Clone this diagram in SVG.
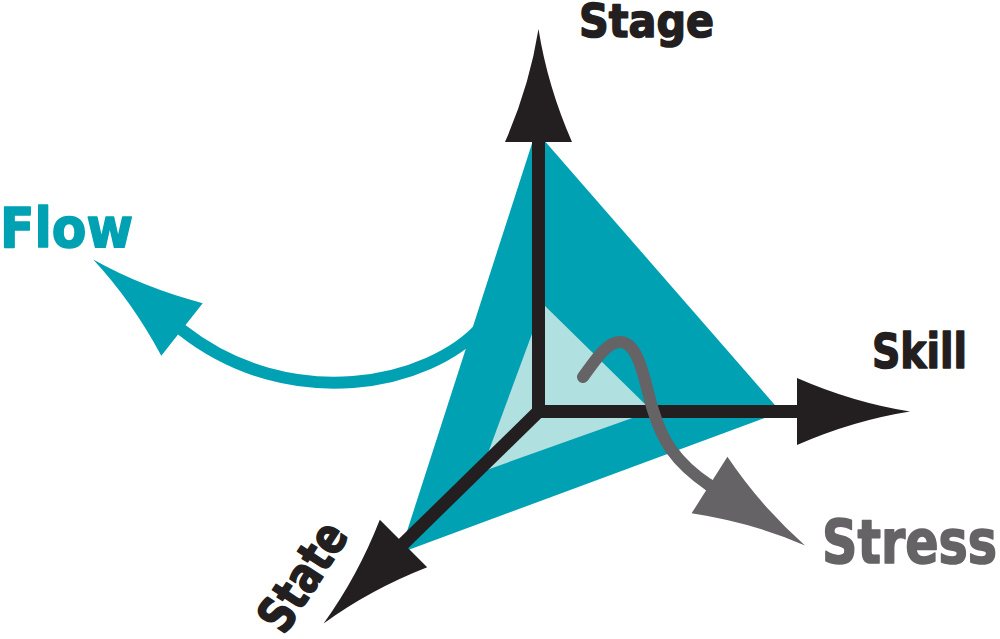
<svg xmlns="http://www.w3.org/2000/svg" xmlns:xlink="http://www.w3.org/1999/xlink" width="1000" height="639" viewBox="0 0 1000 639">
  <style>
    .lbl { font-family: "DejaVu Sans", Verdana, "Liberation Sans", sans-serif; font-weight: bold; stroke-width: 1.6; stroke-linejoin: round; }
    .dark { fill: #231f20; }
    .teal { fill: #00a1b3; }
    .light { fill: #b0e0df; }
    .grey { fill: #656365; }
    text.dark { stroke: #231f20; }
    text.teal { stroke: #00a1b3; }
    text.grey { stroke: #656365; }
    .axis { fill: none; stroke: #231f20; stroke-width: 13; stroke-linejoin: miter; }
    .flowline { fill: none; stroke: #00a1b3; stroke-width: 12; }
    .stressline { fill: none; stroke: #656365; stroke-width: 12; stroke-linecap: round; }
  </style>
  <defs>
    <path id="ah" d="M0,-33.5 Q56,-9 113,0 Q56,9 0,33.5 Z"/>
  </defs>
  <rect width="1000" height="639" fill="#ffffff"/>

  <g id="connectors">
    <path class="flowline" d="M482,326 C430,385 290,415 182,330 L178,327"/>
    <use xlink:href="#ah" class="teal" transform="translate(182,329.5) rotate(-141.8)"/>
  </g>

  <g id="tetrahedron">
    <polygon class="teal" points="536,131 781,412 400,553"/>
    <polygon class="light" points="543,304 481,472 652,411"/>
  </g>

  <g id="axes">
    <path class="axis" d="M538.5,140 L538.5,411.5 L799,411.5"/>
    <path class="axis" d="M538.5,411.5 L402,545"/>
    <use xlink:href="#ah" class="dark" transform="translate(538.5,142) rotate(-90)"/>
    <use xlink:href="#ah" class="dark" transform="translate(797,411.5)"/>
    <use xlink:href="#ah" class="dark" transform="translate(403.5,543.5) rotate(135)"/>
  </g>

  <g id="stress-path">
    <path class="stressline" d="M583,377 C598,356 608,342 620,342 C640,342 645,385 653,410 C662,440 675,462 709,485"/>
    <path fill="none" stroke="#656365" stroke-width="12" d="M708,484.4 L714,488.2"/>
    <use xlink:href="#ah" class="grey" transform="translate(709.5,485) rotate(32.3)"/>
  </g>

  <g id="stage">
    <text class="lbl dark" x="579" y="37" font-size="46" textLength="135" lengthAdjust="spacingAndGlyphs">Stage</text>
  </g>
  <g id="skill">
    <text class="lbl dark" x="872" y="368" font-size="48" textLength="95" lengthAdjust="spacingAndGlyphs">Skill</text>
  </g>
  <g id="flow">
    <text class="lbl teal" x="0" y="247" font-size="55" textLength="133" lengthAdjust="spacingAndGlyphs">Flow</text>
  </g>
  <g id="stress">
    <text class="lbl grey" x="822" y="563" font-size="60" textLength="175" lengthAdjust="spacingAndGlyphs">Stress</text>
  </g>
  <g id="state">
    <text class="lbl dark" transform="translate(317,586) rotate(-57)" x="0" y="0" text-anchor="middle" font-size="50" textLength="120" lengthAdjust="spacingAndGlyphs">State</text>
  </g>
</svg>
